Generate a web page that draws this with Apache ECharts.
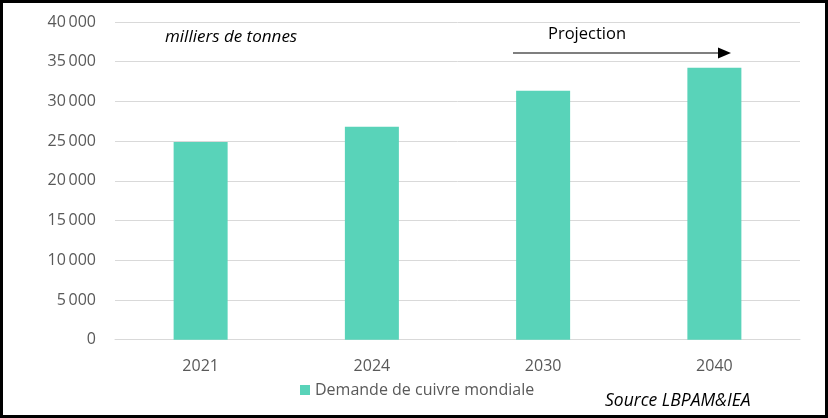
<!DOCTYPE html>
<html><head><meta charset="utf-8">
<script src="https://cdn.jsdelivr.net/npm/echarts@6/dist/echarts.min.js"></script>
<style>html,body{margin:0;padding:0;background:#fff}#c{width:828px;height:418px}</style>
</head><body><div id="c"></div>
<script>
const categories = ['2021', '2024', '2030', '2040'];
const demand = [24900, 26800, 31350, 34250];
const seriesName = 'Demande de cuivre mondiale';
const fmt = v => v === 0 ? '0' : String(v).replace(/\B(?=(\d{3})+(?!\d))/g, '\u2009');
const chart = echarts.init(document.getElementById('c'));
const F = 'Open Sans';
chart.setOption({
  animation: false,
  grid: {left: 115, right: 28, top: 22, bottom: 78.3},
  legend: {
    data: [seriesName], left: 295, top: 377, itemWidth: 10, itemHeight: 10, itemGap: 5,
    icon: 'rect', textStyle: {color: '#595959', fontSize: 16, fontFamily: F}
  },
  xAxis: {
    type: 'category', data: categories,
    axisLine: {lineStyle: {color: '#d9d9d9'}}, axisTick: {show: false},
    axisLabel: {color: '#595959', fontSize: 16, fontFamily: F, margin: 19}
  },
  yAxis: {
    type: 'value', min: 0, max: 40000, interval: 5000,
    axisLine: {show: false}, axisTick: {show: false},
    splitLine: {lineStyle: {color: '#d9d9d9', width: 1}},
    axisLabel: {color: '#595959', fontSize: 16, fontFamily: F, margin: 19, formatter: fmt}
  },
  series: [{
    name: seriesName, type: 'bar', data: demand, barWidth: 54,
    itemStyle: {color: '#59d3b9'}
  }],
  graphic: [
    {type: 'rect', shape: {x: 1.5, y: 1.5, width: 825, height: 415}, style: {fill: 'none', stroke: '#000', lineWidth: 3}, silent: true},
    {type: 'text', style: {x: 165, y: 37, verticalAlign: 'middle', text: 'milliers de tonnes', font: 'italic 17px "Open Sans"', fill: '#000'}},
    {type: 'text', style: {x: 548, y: 34, verticalAlign: 'middle', text: 'Projection', font: '16.5px "Open Sans"', fill: '#000'}},
    {type: 'line', shape: {x1: 513, y1: 53, x2: 720, y2: 53}, style: {stroke: '#000', lineWidth: 1.2}},
    {type: 'polygon', shape: {points: [[718, 47.5], [731, 53], [718, 58.5]]}, style: {fill: '#000'}},
    {type: 'text', style: {x: 605, y: 401, verticalAlign: 'middle', text: 'Source LBPAM&IEA', font: 'italic 17.5px "Open Sans"', fill: '#000'}}
  ]
});
</script></body></html>
